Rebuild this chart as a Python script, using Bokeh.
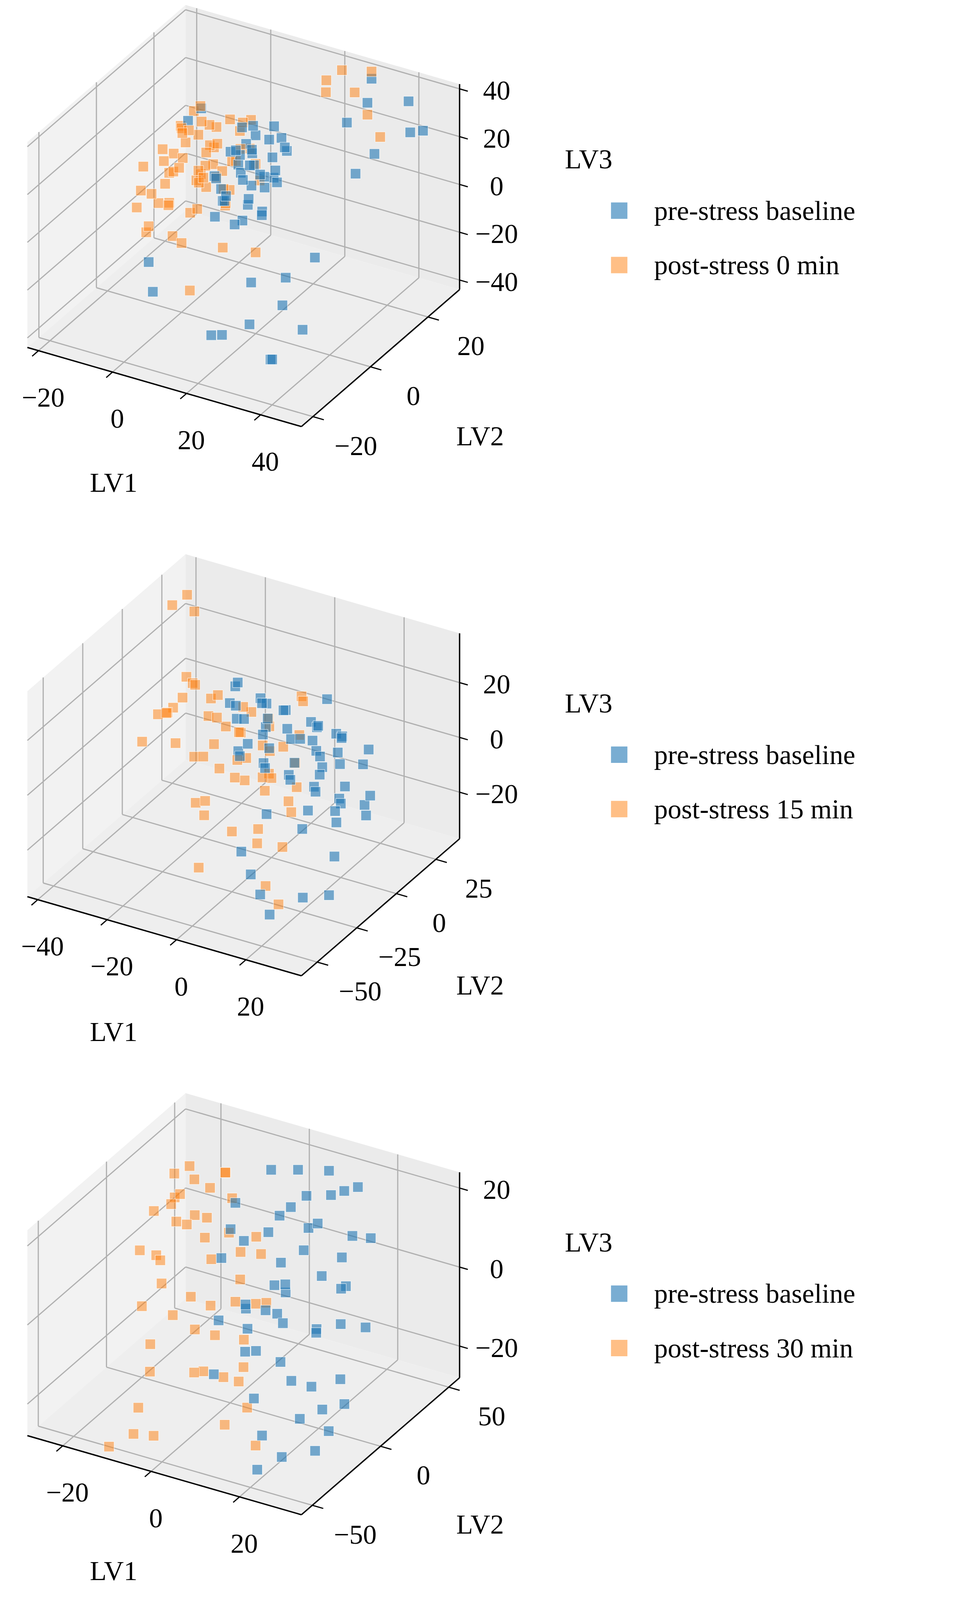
import math
from bokeh.plotting import figure
from bokeh.models import Range1d
from bokeh.embed import file_html
from bokeh.resources import INLINE
from bokeh.core.properties import value

# ---------------- data (LV1, LV2, LV3) ----------------
p1_pre = [(5,5,10),(8,10,15),(10,2,5),(12,15,18),(6,12,8),(15,8,12),(9,0,0),(11,18,20),(14,5,2),(7,8,18),(13,12,6),(16,16,14),(10,6,22),(8,14,-2),(12,3,-5),(18,10,8),(5,16,12),(15,2,16),(9,20,4),(17,6,-2),
          (7,3,12),(9,9,9),(11,11,11),(13,7,16),(6,18,14),(14,14,4),(10,16,-4),(12,9,20),(16,12,10),(8,4,2),(11,7,-8),(13,18,16),(7,12,24),(15,4,6),(17,14,18),(9,13,13),(12,0,10),(6,6,4),(14,10,-6),(10,12,26),
          (30,-15,-20),(35,-10,-15),(40,-20,-25),(32,-5,-10),(38,-18,-28),(28,-22,-18),(42,-12,-20),(25,-8,-12),(36,0,-5),(22,-18,-25),
          (30,26,30),(35,22,15),(40,28,20),(28,30,35),(45,26,25),(33,18,10),(38,30,30),(26,24,22),
          (-20,28,-2),(-18,30,2),(0,-10,-25),(-5,-5,-20)]
p1_post = [(-10,10,0),(-5,15,5),(-12,5,-5),(-8,20,10),(-2,8,-10),(0,12,0),(-15,15,-8),(-6,2,5),(-10,25,3),(-3,18,-5),(2,5,8),(-8,-2,-12),(-14,10,-15),(-4,22,12),(0,0,-15),(-12,18,8),(-7,12,-18),(3,15,5),(-1,25,-2),(-9,5,15),(-16,22,-3),(-5,-5,-5),(1,20,15),(-11,0,2),(4,10,-8),(-3,28,6),(-13,28,-10),(6,18,2),(-6,8,20),(8,5,0),
           (-9,12,4),(-6,16,-2),(-11,8,6),(-4,11,2),(-7,20,-6),(-2,15,10),(-13,14,2),(-8,6,-8),(-5,24,-8),(-10,18,-12),(0,6,4),(-3,3,12),(-12,22,14),(-6,28,0),(-1,18,-12),(2,12,-4),(-15,6,4),(-9,-4,0),(-4,2,-16),(4,22,-10),(-7,16,16),(-2,-2,2),(5,14,12),(-11,24,-4),(-14,18,8),
           (-22,28,-5),(-20,30,0),(-18,29,-8),(-15,26,-20),(-12,24,-22),
           (20,30,35),(25,28,30),(28,30,38),(30,26,25),(35,24,20),(18,27,28),(22,22,40),
           (15,-5,-5),(20,0,-10),(10,-10,-20)]
p2_pre = [(-10,0,10),(-5,5,15),(0,10,5),(5,15,0),(10,20,-5),(15,25,-10),(-5,-10,5),(0,-5,0),(5,0,-5),(10,5,-10),(15,10,-15),(20,15,-18),(0,-20,10),(5,-15,5),(10,-10,0),(15,-5,-5),(20,0,-10),(25,5,-15),(-15,10,15),(-10,15,10),(-5,20,5),(0,25,0),(5,30,-5),(-8,-5,18),(-2,2,12),(8,12,8),(12,18,2),(18,22,-2),(22,-8,-8),(3,-12,15),(-12,5,20),(6,22,12),(14,0,5),
          (-3,3,8),(2,8,3),(7,13,-2),(12,17,-7),(-7,-2,12),(3,-8,8),(8,-3,2),(13,2,-3),(18,7,-8),(23,12,-12),(-12,0,15),(-2,12,10),(4,20,2),(9,25,-2),(16,-12,-8),(21,-5,-14),(0,-15,12),(11,8,-4),(6,5,6),(-6,10,12),
          (10,-25,-5),(18,-20,-10),(25,-15,-20),(15,-40,-25),(20,-45,-28),(25,-35,-25),(10,-35,-22),(28,-25,-28),(5,-30,-18)]
p2_post = [(-20,10,10),(-15,15,5),(-10,20,0),(-25,5,15),(-30,0,5),(-35,5,0),(-20,-5,-5),(-15,0,-10),(-10,5,-15),(-5,10,-5),(0,15,-10),(-12,-10,5),(-5,-5,0),(0,0,-8),(5,5,-12),(-18,20,-8),(-25,15,-2),(-8,25,-12),(-3,-15,5),(2,-10,-2),(8,-5,-15),(-28,-5,8),(-22,0,18),(-30,12,12),(-35,-5,-5),(-10,-20,-10),(0,-25,-15),(5,-20,-20),(10,-15,-22),(-15,-15,-15),(-5,30,5),(0,20,10),
           (-18,5,5),(-13,8,0),(-8,12,-5),(-3,5,-10),(-22,10,8),(-27,3,10),(-16,-8,-2),(-6,-10,-5),(-1,-2,-12),(4,2,-16),(-20,15,-4),(-12,25,-6),(-32,8,2),(-24,-8,0),(-8,-25,-12),(3,-15,-18),(-14,18,2),(-2,22,-4),
           (-40,25,28),(-38,30,30),(-35,28,26),(12,-30,-28),(18,-35,-30),(-5,-35,-25)]
p3_pre = [(0,10,10),(5,20,15),(10,0,5),(15,-10,0),(8,30,18),(12,15,10),(18,5,-5),(20,-20,-10),(25,-30,-15),(22,10,5),(5,-5,0),(10,25,12),(15,35,20),(3,40,20),(28,-10,-10),(30,-25,-18),(25,0,0),(18,-35,-20),(12,-20,-5),(8,-15,-8),(2,5,-5),(20,20,2),(14,-5,8),(6,15,-8),(16,30,5),(24,-40,-22),(0,30,22),(10,40,22),(-5,20,15),(-2,0,8),(26,15,-5),(32,-20,-12),(30,-35,-20),(20,-45,-25),(4,-25,-12),(15,45,18),
          (4,15,12),(9,8,8),(13,22,15),(17,12,6),(21,-5,-2),(7,-10,-4),(11,5,2),(19,28,12),(23,-15,-12),(14,-28,-14),(6,25,16),(2,-15,-2),(27,-20,-15),(16,-15,-8),(12,35,18),(8,0,-2),(21,35,10),(-3,10,12)]
p3_post = [(-25,40,10),(-20,50,5),(-15,30,0),(-22,20,-5),(-18,55,8),(-10,40,-5),(-5,20,-10),(-12,10,-8),(-25,25,5),(-20,0,-10),(-15,-10,-15),(-8,0,-12),(0,10,-15),(5,-10,-18),(10,-20,-20),(-28,50,0),(-25,55,-5),(-15,45,12),(-10,55,-10),(-20,35,15),(-5,35,-15),(0,-5,-20),(8,-30,-22),(15,-30,-25),(-12,-20,-18),(-18,15,12),(-8,25,5),(2,20,-8),(-10,-35,-22),(-8,-45,-25),(-12,-50,-28),(-5,-40,-26),(-22,5,2),(-2,-20,-15),
           (-22,45,8),(-17,38,2),(-12,25,-3),(-20,28,10),(-15,50,4),(-7,30,-8),(-18,8,-6),(-10,18,-12),(-5,5,-14),(-23,35,0),(-13,0,-10),(-3,-10,-18),(3,0,-18),(-16,20,6),(-8,45,-2),(-26,30,-8)]

post_labels = ["post-stress 0 min", "post-stress 15 min", "post-stress 30 min"]
x_ticks = [[-20, 0, 20, 40], [-40, -20, 0, 20], [-20, 0, 20]]
y_ticks = [[-20, 0, 20], [-50, -25, 0, 25], [-50, 0, 50]]
z_ticks = [[-40, -20, 0, 20, 40], [-20, 0, 20], [-20, 0, 20]]
limits = [((-23, 51), (-24, 31), (-44, 42)),
          ((-43, 36), (-60, 40), (-37, 38)),
          ((-28, 34), (-58, 58), (-28, 24))]

K = 2.628
W, H = 2457, 4137
BLUE, ORANGE = "#1f77b4", "#ff7f0e"
FONT = value("Liberation Serif")
FS = "70px"

p = figure(width=W, height=H, x_range=Range1d(0, W), y_range=Range1d(H, 0),
           output_backend="svg", toolbar_location=None)
p.axis.visible = False
p.grid.visible = False
p.outline_line_color = None
p.min_border = 0

panels = [(p1_pre, p1_post, 0), (p2_pre, p2_post, 540), (p3_pre, p3_post, 1075)]
centers = [(237, 210), (237, 205), (237, 195)]
S = 405

for i, (pre, post, top) in enumerate(panels):
    (x0, x1), (y0, y1), (z0, z1) = limits[i]
    cx, cy = centers[i][0] * K, (top + centers[i][1]) * K

    def norm(x, y, z):
        return (2 * (x - x0) / (x1 - x0) - 1, 2 * (y - y0) / (y1 - y0) - 1, 0.75 * (2 * (z - z0) / (z1 - z0) - 1))

    def projn(nx, ny, nz):
        sx = 0.866 * nx + 0.5 * ny
        sy = -0.25 * nx + 0.433 * ny + 0.866 * nz
        return cx + S * sx, cy - S * sy

    def proj(x, y, z):
        return projn(*norm(x, y, z))

    Z = 0.75
    for corners, col in [([(-1,-1,-Z),(-1,1,-Z),(-1,1,Z),(-1,-1,Z)], "#f2f2f2"),
                         ([(-1,1,-Z),(1,1,-Z),(1,1,Z),(-1,1,Z)], "#ebebeb"),
                         ([(-1,-1,-Z),(1,-1,-Z),(1,1,-Z),(-1,1,-Z)], "#eeeeee")]:
        pts = [projn(*c) for c in corners]
        p.patch([a for a, b in pts], [b for a, b in pts], fill_color=col, line_color=None)
    gx, gy = [], []
    def seg(a, b):
        pa, pb = projn(*a), projn(*b)
        gx.append([pa[0], pb[0]]); gy.append([pa[1], pb[1]])
    for t in x_ticks[i]:
        nx = norm(t, 0, 0)[0]
        seg((nx, 1, -Z), (nx, 1, Z)); seg((nx, -1, -Z), (nx, 1, -Z))
    for t in y_ticks[i]:
        ny = norm(0, t, 0)[1]
        seg((-1, ny, -Z), (-1, ny, Z)); seg((-1, ny, -Z), (1, ny, -Z))
    for t in z_ticks[i]:
        nz = norm(0, 0, t)[2]
        seg((-1, -1, nz), (-1, 1, nz)); seg((-1, 1, nz), (1, 1, nz))
    p.multi_line(gx, gy, line_color="#b0b0b0", line_width=3)

    ax = [((-1,-1,-Z),(1,-1,-Z)), ((1,-1,-Z),(1,1,-Z)), ((1,1,-Z),(1,1,Z))]
    p.multi_line([[projn(*a)[0], projn(*b)[0]] for a, b in ax],
                 [[projn(*a)[1], projn(*b)[1]] for a, b in ax], line_color="black", line_width=3.5)

    tx, ty = [], []
    lx, ly, lt = [], [], []
    for t in x_ticks[i]:
        nx = norm(t, 0, 0)[0]
        a, b = projn(nx, -1, -Z), projn(nx, -1.08, -Z)
        tx.append([a[0], b[0]]); ty.append([a[1], b[1]])
        lx.append(a[0] + 12); ly.append(a[1] + 120); lt.append(str(t).replace("-", "\u2212"))
    for t in y_ticks[i]:
        ny = norm(0, t, 0)[1]
        a, b = projn(1, ny, -Z), projn(1.08, ny, -Z)
        tx.append([a[0], b[0]]); ty.append([a[1], b[1]])
        lx.append(a[0] + 110); ly.append(a[1] + 75); lt.append(str(t).replace("-", "\u2212"))
    for t in z_ticks[i]:
        nz = norm(0, 0, t)[2]
        a, b = projn(1, 1, nz), projn(1.06, 1, nz)
        tx.append([a[0], b[0]]); ty.append([a[1], b[1]])
        lx.append(a[0] + 95); ly.append(a[1] + 5); lt.append(str(t).replace("-", "\u2212"))
    p.multi_line(tx, ty, line_color="black", line_width=3)
    p.text(lx, ly, text=lt, text_font=FONT, text_font_size=FS, text_align="center",
           text_baseline="middle", text_color="black")

    a = projn(0, -1, -Z)
    p.text([a[0] - 130], [a[1] + 245], text=["LV1"], text_font=FONT, text_font_size=FS,
           text_align="center", text_baseline="middle")
    b = projn(1, 0, -Z)
    p.text([b[0] + 255], [b[1] + 200], text=["LV2"], text_font=FONT, text_font_size=FS,
           text_align="center", text_baseline="middle")

    allp = [(pt, BLUE, 0.6) for pt in pre] + [(pt, ORANGE, 0.5) for pt in post]
    def depth(item):
        nx, ny, nz = norm(*item[0])
        return 0.433 * nx - 0.75 * ny + 0.5 * nz
    allp.sort(key=depth)
    xs, ys, cs, al = [], [], [], []
    for pt, c, a_ in allp:
        q = proj(*pt)
        xs.append(q[0]); ys.append(q[1]); cs.append(c); al.append(a_)
    p.scatter(xs, ys, marker="square", size=26, fill_color=cs, fill_alpha=al,
              line_color="white", line_width=1.2, line_alpha=0.8)

    ly0 = [155, 145, 135][i]
    p.text([550 * K], [(top + ly0) * K], text=["LV3"], text_font=FONT, text_font_size=FS,
           text_baseline="middle")
    for j, (lab, col, a_) in enumerate([("pre-stress baseline", BLUE, 0.6), (post_labels[i], ORANGE, 0.5)]):
        yy = (top + ly0 + 50 + 53 * j) * K
        p.scatter([603 * K], [yy], marker="square", size=42, fill_color=col, fill_alpha=a_, line_color=None)
        p.text([637 * K], [yy], text=[lab], text_font=FONT, text_font_size=FS, text_baseline="middle")

open("out.html", "w").write(file_html(p, INLINE))
